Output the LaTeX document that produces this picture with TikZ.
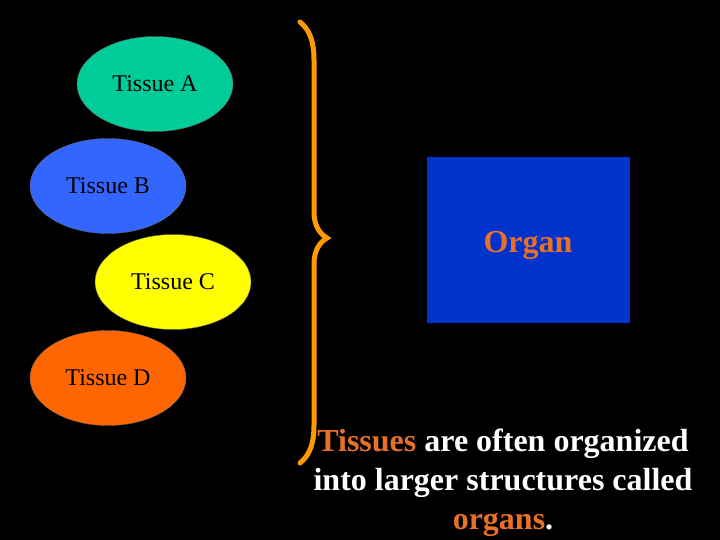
\documentclass[tikz,border=0pt]{standalone}
\usepackage{fontspec}
\setmainfont{Liberation Serif}
\usetikzlibrary{shapes.geometric}
\definecolor{tissuea}{RGB}{0,204,153}
\definecolor{tissueb}{RGB}{51,102,255}
\definecolor{tissuec}{RGB}{255,255,0}
\definecolor{tissued}{RGB}{255,102,0}
\definecolor{organblue}{RGB}{0,51,204}
\definecolor{braceorange}{RGB}{255,153,0}
\definecolor{textorange}{RGB}{232,112,40}
\begin{document}
\begin{tikzpicture}[x=1pt,y=-1pt,
  tissue/.style={ellipse,draw=black!60,line width=0.4pt,minimum width=156pt,minimum height=95pt,inner sep=0pt,text depth=0pt,font=\fontsize{24}{28}\selectfont,text=black},
  bigtext/.style={font=\fontsize{32}{39}\selectfont\bfseries}]
  \fill[black] (0,0) rectangle (720,540);
  \useasboundingbox (0,0) rectangle (720,540);
  \node[tissue,fill=tissuea] (tA) at (155,84) {Tissue A};
  \node[tissue,fill=tissueb] (tB) at (108,186) {Tissue B};
  \node[tissue,fill=tissuec] (tC) at (173,282) {Tissue C};
  \node[tissue,fill=tissued] (tD) at (108,378) {Tissue D};
  % brace
  \draw[braceorange,line width=5pt,line cap=round]
    (300,22) .. controls (310,30) and (314,42) .. (314,60) -- (314,212)
    .. controls (314,226) and (320,234) .. (327,238)
    .. controls (320,242) and (314,250) .. (314,264) -- (314,425)
    .. controls (314,443) and (310,455) .. (300,463);
  \node[draw=none,fill=organblue,minimum width=203pt,minimum height=166pt,inner sep=0pt] (organ) at (528.5,240) {};
  \node[bigtext,text=textorange] (organlbl) at (528,245) {Organ};
  \node[bigtext,text=white,align=center] (caption) at (503,483)
    {\textcolor{textorange}{Tissues} are often organized\\into larger structures called\\\textcolor{textorange}{organs}.};
\end{tikzpicture}
\end{document}
